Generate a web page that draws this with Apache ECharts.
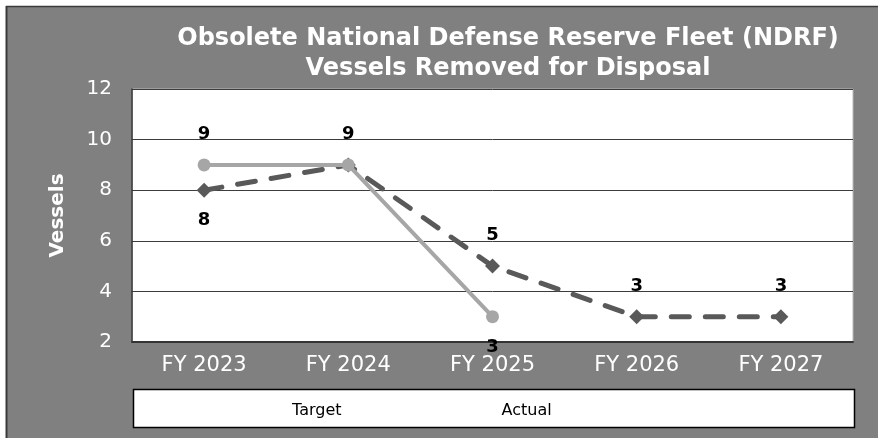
<!DOCTYPE html>
<html>
<head>
<meta charset="utf-8">
<script src="https://cdn.jsdelivr.net/npm/echarts@6/dist/echarts.min.js"></script>
<style>html,body{margin:0;padding:0;background:#fff}#c{width:878px;height:438px}</style>
</head>
<body>
<div id="c"></div>
<script>
const categories = ['FY 2023', 'FY 2024', 'FY 2025', 'FY 2026', 'FY 2027'];
const targetValues = [9, 9, 3, null, null];
const actualValues = [8, 9, 5, 3, 3];
const targetLabelPos = ['top', 'top', 'bottom', null, null];
const actualLabelPos = ['bottom', null, 'top', 'top', 'top'];
const yTicks = [2, 4, 6, 8, 10, 12];

const FONT = 'DejaVu Sans';
function pts(vals, pos, dist) {
  return vals.map((v, i) => ({
    value: v,
    label: pos[i] ? { show: true, position: pos[i], distance: dist } : { show: false }
  }));
}

const chart = echarts.init(document.getElementById('c'), null, { renderer: 'canvas' });
chart.setOption({
  backgroundColor: '#808080',
  animation: false,
  title: {
    text: 'Obsolete National Defense Reserve Fleet (NDRF)\nVessels Removed for Disposal',
    left: 503, top: 19, textAlign: 'center',
    textStyle: { color: '#ffffff', fontFamily: FONT, fontWeight: 'bold', fontSize: 24, lineHeight: 30 }
  },
  graphic: [
    { type: 'rect', shape: { x: 0, y: 0, width: 878, height: 6 }, style: { fill: '#ffffff' }, silent: true },
    { type: 'rect', shape: { x: 0, y: 0, width: 6, height: 438 }, style: { fill: '#ffffff' }, silent: true },
    { type: 'line', shape: { x1: 6.5, y1: 6, x2: 6.5, y2: 438 }, style: { stroke: '#3a3a3a', lineWidth: 2 }, silent: true },
    { type: 'line', shape: { x1: 6, y1: 6.5, x2: 878, y2: 6.5 }, style: { stroke: '#3a3a3a', lineWidth: 1.5 }, silent: true },
    { type: 'rect', z: 1, shape: { x: 133.5, y: 389.5, width: 721, height: 38 }, style: { fill: '#ffffff', stroke: '#000000', lineWidth: 1.5 }, silent: true }
  ],
  legend: {
    z: 5,
    data: ['Target', 'Actual'],
    left: 287, top: 398,
    icon: 'rect', itemWidth: 0, itemHeight: 0, itemGap: 160,
    textStyle: { color: '#000000', fontFamily: FONT, fontSize: 16, padding: [0, 0, 0, -5] },
    selectedMode: false
  },
  grid: {
    left: 132, right: 25, top: 89, bottom: 96,
    show: true, backgroundColor: '#ffffff', borderColor: '#b8b8b8', borderWidth: 1
  },
  xAxis: {
    type: 'category', data: categories, boundaryGap: true,
    axisLine: { show: true, lineStyle: { color: '#333333', width: 2 } },
    axisTick: { show: false },
    axisLabel: { color: '#ffffff', fontFamily: FONT, fontSize: 21, margin: 13 }
  },
  yAxis: {
    type: 'value', min: 2, max: 12, interval: 2,
    name: 'Vessels', nameLocation: 'middle', nameGap: 64, nameRotate: 90,
    nameTextStyle: { color: '#ffffff', fontFamily: FONT, fontWeight: 'bold', fontSize: 20 },
    axisLine: { show: true, lineStyle: { color: '#333333', width: 1.5 } },
    axisTick: { show: false },
    axisLabel: { color: '#ffffff', fontFamily: FONT, fontSize: 20, margin: 20, formatter: v => yTicks.includes(v) ? String(v) : '' },
    splitLine: { show: true, lineStyle: { color: '#3c3c3c', width: 1 } }
  },
  series: [
    {
      name: 'Target', type: 'line', data: pts(targetValues, targetLabelPos, 15),
      symbol: 'circle', symbolSize: 13, z: 3,
      lineStyle: { color: '#a6a6a6', width: 4 },
      itemStyle: { color: '#a6a6a6' },
      label: { color: '#000000', fontFamily: FONT, fontWeight: 'bold', fontSize: 18 }
    },
    {
      name: 'Actual', type: 'line', data: pts(actualValues, actualLabelPos, 14),
      symbol: 'diamond', symbolSize: 15, z: 2,
      lineStyle: { color: '#595959', width: 5, type: [18, 16], cap: 'round' },
      itemStyle: { color: '#595959' },
      label: { color: '#000000', fontFamily: FONT, fontWeight: 'bold', fontSize: 18 }
    }
  ]
});
</script>
</body>
</html>
